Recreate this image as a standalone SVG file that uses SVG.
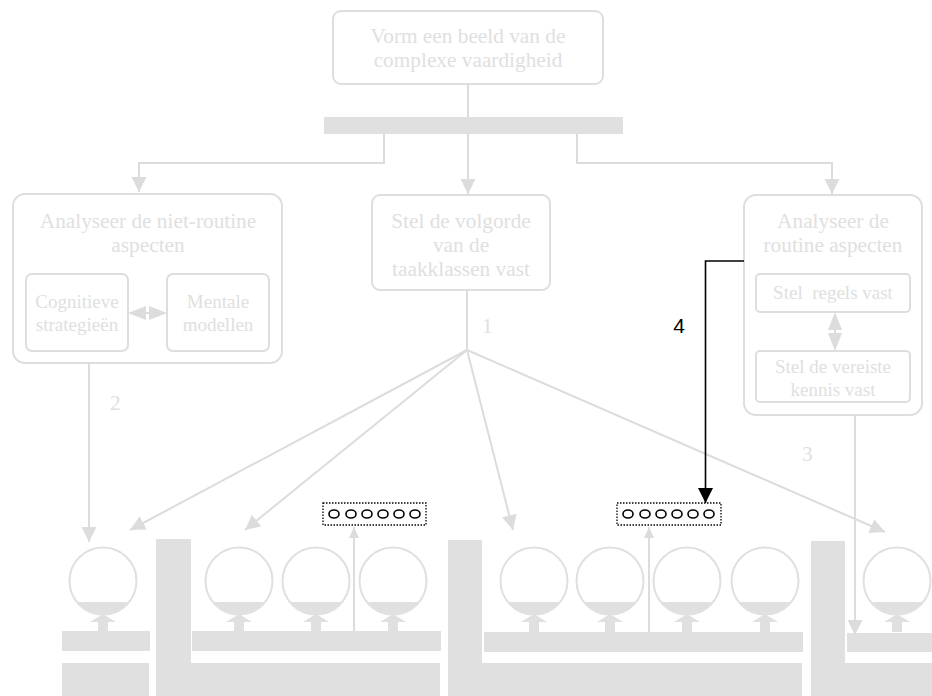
<svg xmlns="http://www.w3.org/2000/svg" width="932" height="696" viewBox="0 0 932 696">
<style>
.box{fill:#fff;stroke:#dedede;stroke-width:2}
.t{font-family:"Liberation Serif","Times New Roman",serif;font-size:21.3px;fill:#e0e0e0;text-anchor:middle}
.ts{font-family:"Liberation Serif","Times New Roman",serif;font-size:19px;fill:#e0e0e0;text-anchor:middle}
.ln{fill:none;stroke:#dcdcdc;stroke-width:2}
.g{fill:#e0e0e0}
.hd{fill:#dcdcdc}
.circ{fill:#fff;stroke:#e0e0e0;stroke-width:2}
.dot{fill:#fff;stroke:#000;stroke-width:1.3;stroke-dasharray:1.5 1.5}
.el{fill:none;stroke:#000;stroke-width:1.6}
</style>
<defs>
<marker id="ah" markerUnits="userSpaceOnUse" markerWidth="16" markerHeight="16" refX="15" refY="7.5" orient="auto"><path d="M0,0 L15,7.5 L0,15 z" fill="#dcdcdc"/></marker>
<marker id="aht" markerUnits="userSpaceOnUse" markerWidth="12" markerHeight="11" refX="11" refY="5" orient="auto"><path d="M0,0 L11,5 L0,10 z" fill="#dcdcdc"/></marker>
<marker id="ahb" markerUnits="userSpaceOnUse" markerWidth="16" markerHeight="16" refX="15" refY="7.5" orient="auto"><path d="M0,0 L15,7.5 L0,15 z" fill="#000"/></marker>
<g id="cup"><path d="M-13,622 L0,614 L13,622 L5,622 L5,632 L-5,632 L-5,622 z" fill="#e0e0e0"/></g>
</defs>
<rect width="932" height="696" fill="#fff"/>

<rect x="324" y="117" width="299" height="17" class="g"/>

<g id="top">
<rect class="box" x="333" y="11" width="270" height="73" rx="8"/>
<text class="t" x="468" y="43">Vorm een beeld van de</text>
<text class="t" x="468" y="67">complexe vaardigheid</text>
</g>

<g id="left">
<rect class="box" x="13" y="194" width="269" height="169" rx="12"/>
<text class="t" x="148" y="228">Analyseer de niet-routine</text>
<text class="t" x="148" y="252">aspecten</text>
</g>
<g id="cog">
<rect class="box" x="26" y="274" width="102" height="77" rx="6"/>
<text class="ts" x="77" y="308">Cognitieve</text>
<text class="ts" x="77" y="331">strategieën</text>
</g>
<g id="ment">
<rect class="box" x="167" y="274" width="102" height="77" rx="6"/>
<text class="ts" x="218" y="308">Mentale</text>
<text class="ts" x="218" y="331">modellen</text>
</g>

<g id="mid">
<rect class="box" x="372" y="195" width="178" height="95" rx="8"/>
<text class="t" x="461" y="228">Stel de volgorde</text>
<text class="t" x="461" y="252">van de</text>
<text class="t" x="461" y="276">taakklassen vast</text>
</g>

<g id="right">
<rect class="box" x="744" y="195" width="178" height="220" rx="12"/>
<text class="t" x="833" y="228">Analyseer de</text>
<text class="t" x="833" y="252">routine aspecten</text>
</g>
<g id="regels">
<rect class="box" x="756" y="274" width="154" height="38" rx="4"/>
<text class="ts" x="833" y="299" xml:space="preserve">Stel  regels vast</text>
</g>
<g id="kennis">
<rect class="box" x="756" y="351" width="154" height="51" rx="4"/>
<text class="ts" x="833" y="373">Stel de vereiste</text>
<text class="ts" x="833" y="396">kennis vast</text>
</g>

<g id="labels">
<text class="t" x="482" y="333" style="text-anchor:start">1</text>
<text class="t" x="110" y="410" style="text-anchor:start">2</text>
<text class="t" x="802" y="461" style="text-anchor:start">3</text>
<text x="679" y="333" font-family="'Liberation Sans',Arial,sans-serif" font-size="21" text-anchor="middle" fill="#000">4</text>
</g>

<g id="bottom">
<rect x="62" y="631" width="88" height="20" class="g"/>
<rect x="62" y="663" width="87" height="33" class="g"/>
<rect x="156" y="539" width="35" height="157" class="g"/>
<rect x="156" y="663" width="284" height="33" class="g"/>
<rect x="192" y="631" width="249" height="20" class="g"/>
<rect x="448" y="540" width="34" height="156" class="g"/>
<rect x="448" y="663" width="354" height="33" class="g"/>
<rect x="484" y="632" width="319" height="20" class="g"/>
<rect x="811" y="541" width="34" height="155" class="g"/>
<rect x="811" y="663" width="121" height="33" class="g"/>
<rect x="847" y="633" width="85" height="19" class="g"/>
</g>

<g id="wells">
<g transform="translate(103,0)"><circle class="circ" cx="0" cy="581" r="33.5"/><path d="M-25.5,602 A33,33 0 0 0 25.5,602 z" class="g"/><use href="#cup"/></g>
<g transform="translate(239,0)"><circle class="circ" cx="0" cy="581" r="33.5"/><path d="M-25.5,602 A33,33 0 0 0 25.5,602 z" class="g"/><use href="#cup"/></g>
<g transform="translate(316,0)"><circle class="circ" cx="0" cy="581" r="33.5"/><path d="M-25.5,602 A33,33 0 0 0 25.5,602 z" class="g"/><use href="#cup"/></g>
<g transform="translate(393,0)"><circle class="circ" cx="0" cy="581" r="33.5"/><path d="M-25.5,602 A33,33 0 0 0 25.5,602 z" class="g"/><use href="#cup"/></g>
<g transform="translate(534,0)"><circle class="circ" cx="0" cy="581" r="33.5"/><path d="M-25.5,602 A33,33 0 0 0 25.5,602 z" class="g"/><use href="#cup"/></g>
<g transform="translate(610,0)"><circle class="circ" cx="0" cy="581" r="33.5"/><path d="M-25.5,602 A33,33 0 0 0 25.5,602 z" class="g"/><use href="#cup"/></g>
<g transform="translate(687,0)"><circle class="circ" cx="0" cy="581" r="33.5"/><path d="M-25.5,602 A33,33 0 0 0 25.5,602 z" class="g"/><use href="#cup"/></g>
<g transform="translate(765,0)"><circle class="circ" cx="0" cy="581" r="33.5"/><path d="M-25.5,602 A33,33 0 0 0 25.5,602 z" class="g"/><use href="#cup"/></g>
<g transform="translate(897,0)"><circle class="circ" cx="0" cy="581" r="33.5"/><path d="M-25.5,602 A33,33 0 0 0 25.5,602 z" class="g"/><use href="#cup"/></g>
</g>

<g id="dots1">
<rect class="dot" x="323" y="503" width="103" height="22"/>
<ellipse class="el" cx="334" cy="514" rx="5" ry="4"/>
<ellipse class="el" cx="351" cy="514" rx="5" ry="4"/>
<ellipse class="el" cx="367" cy="514" rx="5" ry="4"/>
<ellipse class="el" cx="383" cy="514" rx="5" ry="4"/>
<ellipse class="el" cx="399" cy="514" rx="5" ry="4"/>
<ellipse class="el" cx="415" cy="514" rx="5" ry="4"/>
</g>
<g id="dots2">
<rect class="dot" x="617" y="503" width="104" height="22"/>
<ellipse class="el" cx="628" cy="514" rx="5" ry="4"/>
<ellipse class="el" cx="645" cy="514" rx="5" ry="4"/>
<ellipse class="el" cx="661" cy="514" rx="5" ry="4"/>
<ellipse class="el" cx="677" cy="514" rx="5" ry="4"/>
<ellipse class="el" cx="693" cy="514" rx="5" ry="4"/>
<ellipse class="el" cx="709" cy="514" rx="5" ry="4"/>
</g>

<g id="connectors">
<line class="ln" x1="468" y1="84" x2="468" y2="117"/>
<line class="ln" x1="468" y1="134" x2="468" y2="194" marker-end="url(#ah)"/>
<polyline class="ln" points="384,134 384,163 139,163 139,192" marker-end="url(#ah)"/>
<polyline class="ln" points="577,134 577,163 832,163 832,194" marker-end="url(#ah)"/>
<line class="ln" x1="467" y1="290" x2="467" y2="350"/>
<line class="ln" x1="467" y1="350" x2="130" y2="530" marker-end="url(#ah)"/>
<line class="ln" x1="467" y1="350" x2="245" y2="530" marker-end="url(#ah)"/>
<line class="ln" x1="467" y1="350" x2="513" y2="530" marker-end="url(#ah)"/>
<line class="ln" x1="467" y1="350" x2="885" y2="532" marker-end="url(#ah)"/>
<line class="ln" x1="89" y1="363" x2="89" y2="542" marker-end="url(#ah)"/>
<line class="ln" x1="855" y1="415" x2="855" y2="635" marker-end="url(#ah)"/>
<line class="ln" x1="140" y1="313" x2="155" y2="313"/>
<path class="hd" d="M128,313 L146,306 L146,320 z M167,313 L149,306 L149,320 z"/>
<line class="ln" x1="835" y1="322" x2="835" y2="342"/>
<path class="hd" d="M835,312 L828,330 L842,330 z M835,351 L828,333 L842,333 z"/>
<line class="ln" x1="354" y1="631" x2="354" y2="527" marker-end="url(#aht)"/>
<line class="ln" x1="649" y1="632" x2="649" y2="527" marker-end="url(#aht)"/>
<polyline points="744,261 705.5,261 705.5,503" fill="none" stroke="#000" stroke-width="1.6" marker-end="url(#ahb)"/>
</g>
</svg>
